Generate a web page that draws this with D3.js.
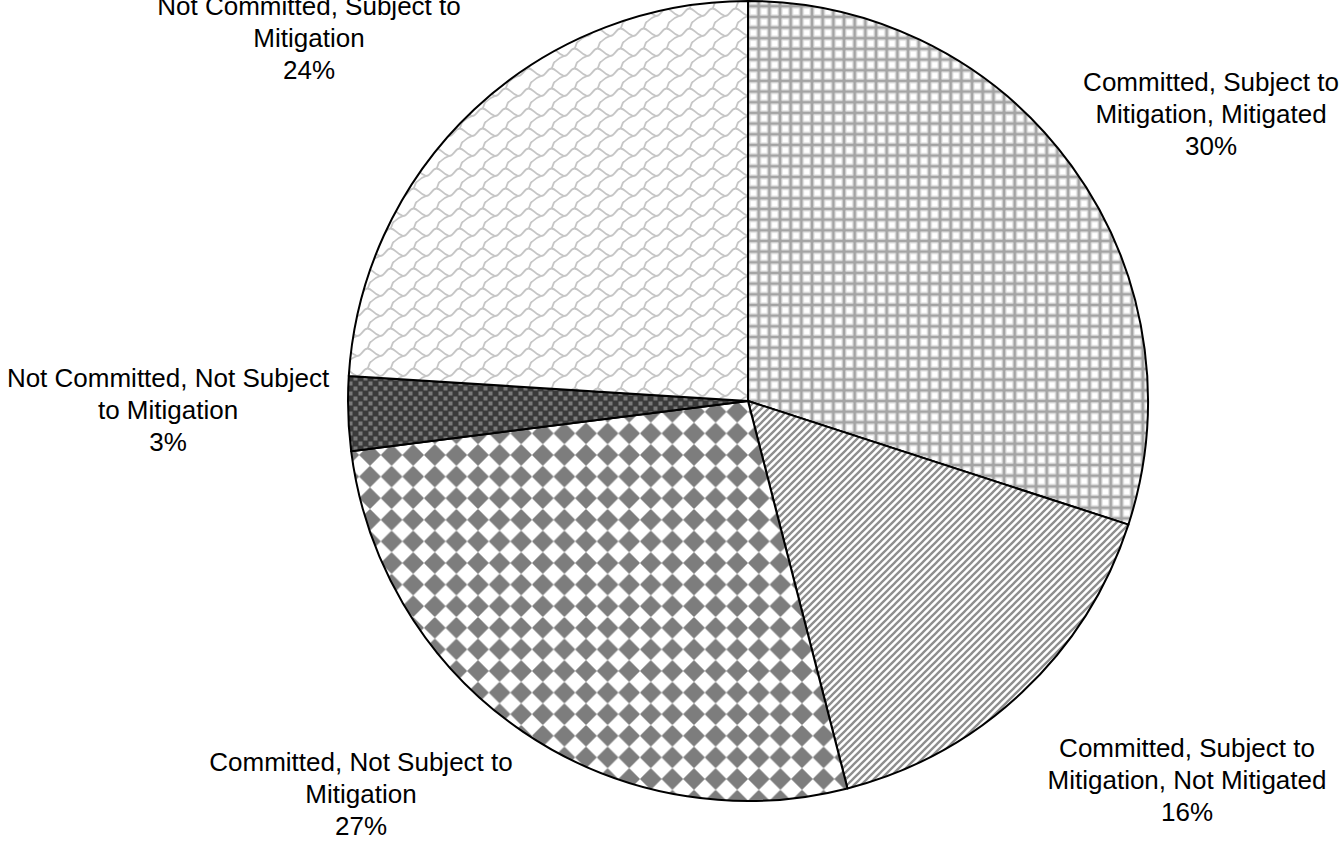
<!DOCTYPE html>
<html>
<head>
<meta charset="utf-8">
<script src="https://cdn.jsdelivr.net/npm/d3@7"></script>
<style>
  html, body { margin: 0; padding: 0; background: #fff; }
  svg { display: block; }
  text { font-family: "Liberation Sans", Arial, sans-serif; fill: #000; }
</style>
</head>
<body>
<svg id="chart" width="1342" height="841"></svg>
<script>
// Share of projects by commitment / mitigation status
const categories = [
  "Committed, Subject to Mitigation, Mitigated",
  "Committed, Subject to Mitigation, Not Mitigated",
  "Committed, Not Subject to Mitigation",
  "Not Committed, Not Subject to Mitigation",
  "Not Committed, Subject to Mitigation"
];
const values = [30, 16, 27, 3, 24];
// label text lines per slice (the final line is the percentage)
const labelLines = [
  ["Committed, Subject to", "Mitigation, Mitigated"],
  ["Committed, Subject to", "Mitigation, Not Mitigated"],
  ["Committed, Not Subject to", "Mitigation"],
  ["Not Committed, Not Subject", "to Mitigation"],
  ["Not Committed, Subject to", "Mitigation"]
];
const patternIds = ["grid", "diag", "diamond", "dots", "wave"];

const width = 1342, height = 841;
const cx = 748, cy = 401, radius = 400;

const svg = d3.select("#chart");
const defs = svg.append("defs");

// --- fill patterns ---
function pat(id, w, h) {
  return defs.append("pattern")
    .attr("id", id).attr("patternUnits", "userSpaceOnUse")
    .attr("width", w).attr("height", h);
}

// small square grid
{
  const s = 10.67;
  const p = pat("grid", s, s);
  p.append("rect").attr("width", s).attr("height", s).attr("fill", "#fff");
  p.append("rect").attr("x", 2.2).attr("y", 2.2).attr("width", s - 4.4).attr("height", s - 4.4)
    .attr("fill", "none").attr("stroke", "#e2e2e2").attr("stroke-width", 0.8);
  p.append("path").attr("d", `M0,0H${s}M0,${s}H${s}M0,0V${s}M${s},0V${s}`)
    .attr("stroke", "#a4a4a4").attr("stroke-width", 3).attr("fill", "none");
}
// forward diagonal hatch
{
  const s = 7;
  const p = pat("diag", s, s);
  p.append("rect").attr("width", s).attr("height", s).attr("fill", "#fff");
  p.append("path").attr("d", `M${-s},${s}L${s},${-s}M0,${s}L${s},0M0,${2 * s}L${2 * s},0`)
    .attr("stroke", "#8e8e8e").attr("stroke-width", 2.3);
}
// large diamonds
{
  const s = 21.6, r = 9.8;
  const p = pat("diamond", s, s);
  p.append("rect").attr("width", s).attr("height", s).attr("fill", "#fff");
  const c = s / 2;
  p.append("path").attr("d", `M${c},${c - r}L${c + r},${c}L${c},${c + r}L${c - r},${c}Z`)
    .attr("fill", "#7d7d7d").attr("stroke", "#7d7d7d").attr("stroke-width", 1.6)
    .attr("stroke-linejoin", "round");
}
// dark background with small light squares
{
  const s = 10;
  const p = pat("dots", s, s);
  p.append("rect").attr("width", s).attr("height", s).attr("fill", "#3a3a3a");
  [[0.5, 0.5], [5.5, 5.5]].forEach(([x, y]) => {
    p.append("rect").attr("x", x).attr("y", y).attr("width", 4).attr("height", 4)
      .attr("fill", "#7a7a7a");
  });
}
// light wavy weave
{
  const w = 23, h = 20;
  const p = pat("wave", w, h);
  p.append("rect").attr("width", w).attr("height", h).attr("fill", "#fff");
  p.append("path")
    .attr("d", `M0,15 C5,15 6,7.5 10.5,7.5 S16,12.5 23,15 M10.5,7.5 C12.5,5 11.5,1.2 15,0 M15,20 C17,17.5 19.5,16 23,15 M0,15 C-2,16 -4.5,17.5 -8,20`)
    .attr("fill", "none").attr("stroke", "#c6c6c6").attr("stroke-width", 1.8)
    .attr("stroke-linecap", "round");
}

// --- pie ---
const pie = d3.pie().sort(null).value(d => d.value);
const arcs = pie(values.map((v, i) => ({ value: v, i })));
const arc = d3.arc().innerRadius(0).outerRadius(radius);

const g = svg.append("g").attr("transform", `translate(${cx},${cy})`);
g.selectAll("path.slice")
  .data(arcs)
  .join("path")
  .attr("class", "slice")
  .attr("d", arc)
  .attr("fill", d => `url(#${patternIds[d.data.i]})`)
  .attr("stroke", "#000")
  .attr("stroke-width", 2)
  .attr("stroke-linejoin", "round");

// --- labels: centred text blocks beside each slice ---
const fontSize = 26;
const lineH = 32;
const labelPos = [
  [1211, 91], [1187, 757], [361, 771], [168, 387], [309, 15]
];

arcs.forEach((d, i) => {
  const lines = labelLines[i].concat([d3.format(".0%")(d.data.value / 100)]);
  const [x, y] = labelPos[i];
  const t = svg.append("text")
    .attr("text-anchor", "middle")
    .attr("font-size", fontSize);
  lines.forEach((ln, k) => {
    t.append("tspan").attr("x", x).attr("y", y + k * lineH).text(ln);
  });
});
</script>
</body>
</html>
